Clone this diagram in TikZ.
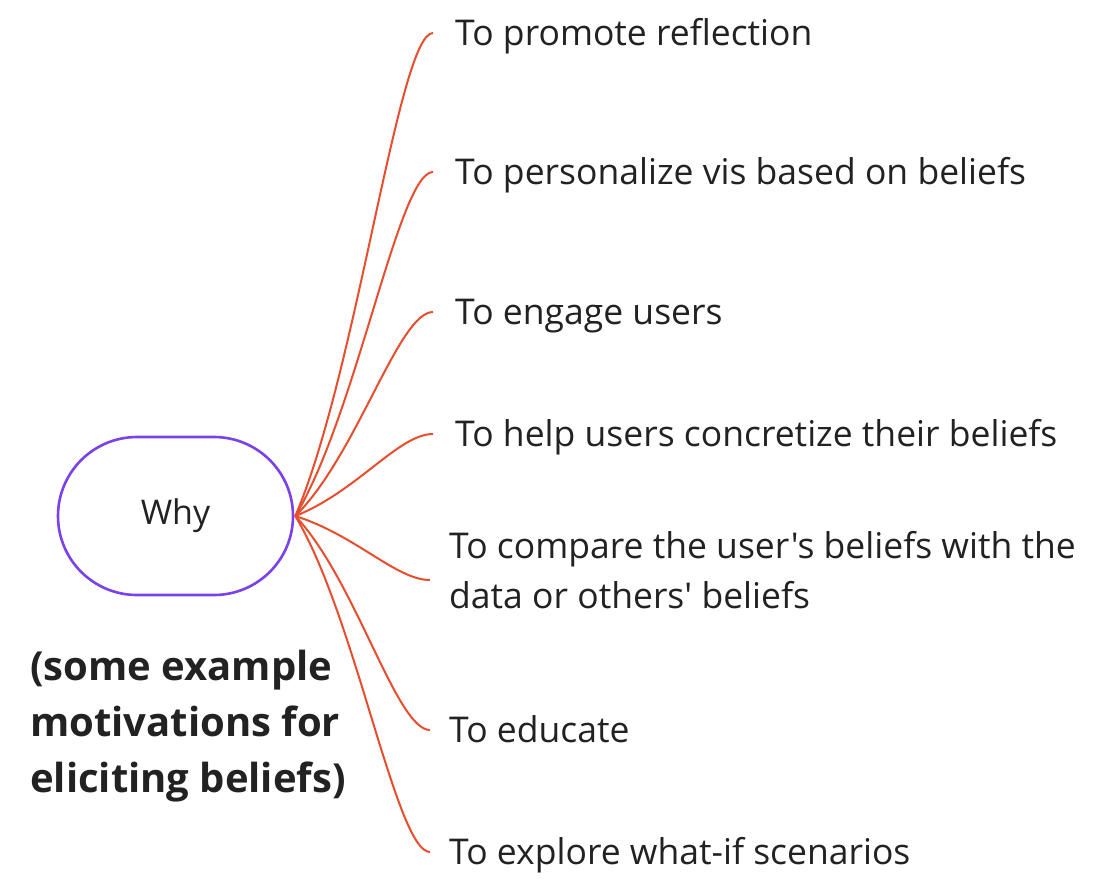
\documentclass[tikz,border=0pt]{standalone}
\usepackage{fontspec}
\setmainfont{Open Sans}[Ligatures=TeXOff]
\usetikzlibrary{calc}
\definecolor{conncol}{RGB}{232,78,46}
\definecolor{pillcol}{RGB}{122,66,232}
\definecolor{txtcol}{RGB}{34,34,34}
\begin{document}
\begin{tikzpicture}[x=1pt,y=1pt,
  pill/.style={draw=pillcol, line width=2.6pt, minimum width=235pt, minimum height=158pt,
    rounded corners=79pt, text=txtcol, font=\fontsize{34}{40}\selectfont},
  item/.style={anchor=base west, inner sep=0pt, text=txtcol,
    align=left, font=\fontsize{35.5}{50}\selectfont},
  note/.style={anchor=base west, inner sep=0pt, text=txtcol, align=left,
    font=\fontsize{40}{56}\selectfont\bfseries},
  conn/.style={draw=conncol, line width=2pt}]
\path[fill=white] (0,0) rectangle (1105,-881);
\useasboundingbox (0,0) rectangle (1105,-881);
\node[pill] (why) at (175.5,-516) {Why};
\node[item] (t1) at (455,-45.5) {To promote reflection};
\node[item] (t2) at (455,-184.5) {To personalize vis based on beliefs};
\node[item] (t3) at (455,-324.5) {To engage users};
\node[item] (t4) at (455,-446.5) {To help users concretize their beliefs};
\node[item] (t5) at (449,-608) {To compare the user's beliefs with the\\data or others' beliefs};
\node[item] (t6) at (449,-742.5) {To educate};
\node[item] (t7) at (449,-864.5) {To explore what-if scenarios};
\node[note] (n) at (30,-792) {(some example\\motivations for\\eliciting beliefs)};
\coordinate (o) at ([xshift=1pt]why.east);
\coordinate (e1) at ([xshift=-22pt,yshift=12.5pt]t1.base west);
\coordinate (e2) at ([xshift=-22pt,yshift=12.5pt]t2.base west);
\coordinate (e3) at ([xshift=-22pt,yshift=12.5pt]t3.base west);
\coordinate (e4) at ([xshift=-22pt,yshift=12.5pt]t4.base west);
\coordinate (e5) at ([xshift=-19pt,yshift=28pt]t5.base west);
\coordinate (e6) at ([xshift=-19pt,yshift=12.5pt]t6.base west);
\coordinate (e7) at ([xshift=-19pt,yshift=12.5pt]t7.base west);
\foreach \i in {1,...,7}{
  \draw[conn] (o) let \p1=(o), \p2=(e\i) in
    .. controls ({\x1+0.45*(\x2-\x1)},{\y1+0.3*(\y2-\y1)}) and ({\x2-0.25*(\x2-\x1)},\y2) .. (e\i);
}
\end{tikzpicture}
\end{document}
